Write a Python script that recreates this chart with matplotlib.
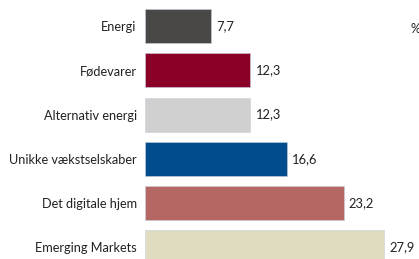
import matplotlib
matplotlib.use("Agg")
import matplotlib.pyplot as plt

categories = ["Energi", "Fødevarer", "Alternativ energi", "Unikke vækstselskaber",
              "Det digitale hjem", "Emerging Markets"]
values = [7.7, 12.3, 12.3, 16.6, 23.2, 27.9]
colors = ["#4a4846", "#8b0026", "#d0d0d0", "#004c8c", "#b56763", "#e0dcc0"]

plt.rcParams['font.family'] = ['Lato', 'DejaVu Sans']
text_color = "#222222"

fig = plt.figure(figsize=(4.19, 2.59), dpi=100)
ax = fig.add_axes([145 / 419, -0.041, 257 / 419, 1.026])

pos = list(range(len(categories)))
ax.barh(pos, values, height=0.77, color=colors, edgecolor="#c8d0dc", linewidth=0.4)

for p, v in zip(pos, values):
    ax.text(v + 0.6, p, f"{v:.1f}".replace(".", ","), va="center", ha="left",
            fontsize=9.3, color=text_color)

ax.set_xlim(0, 30)
ax.set_ylim(5.5, -0.5)
ax.set_yticks(pos)
ax.set_yticklabels(categories, fontsize=9.2, color=text_color)
ax.tick_params(axis="y", length=0, pad=6)
ax.set_xticks([])
for s in ax.spines.values():
    s.set_visible(False)

fig.text(410 / 419, 1 - 29 / 259, "%", fontsize=9, color=text_color, va="center", ha="left")

fig.savefig("out.png", dpi=100)
